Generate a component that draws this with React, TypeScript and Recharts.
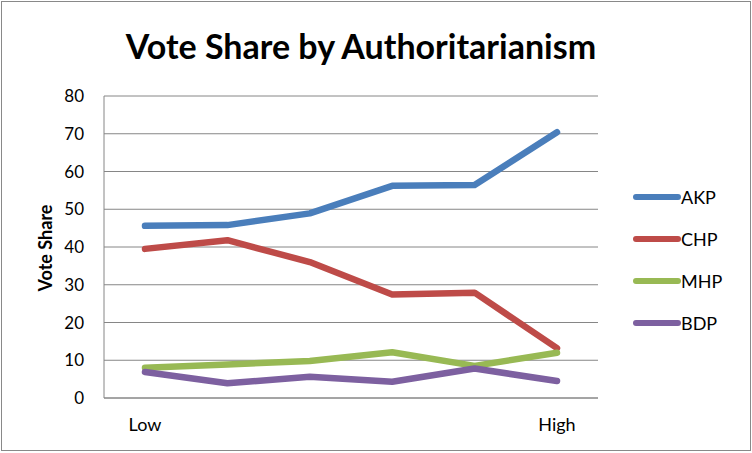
import React from "react";
import { LineChart, Line, XAxis, YAxis, CartesianGrid } from "recharts";

const levels = [1, 2, 3, 4, 5, 6];
const tickLabels = ["Low", "", "", "", "", "High"];
const akp = [45.6, 45.8, 48.9, 56.2, 56.4, 70.4];
const chp = [39.5, 41.8, 36.0, 27.4, 27.9, 13.2];
const mhp = [8.0, 8.9, 9.8, 12.1, 8.5, 12.0];
const bdp = [6.9, 3.9, 5.6, 4.3, 7.8, 4.5];
const yTicks = [0, 10, 20, 30, 40, 50, 60, 70, 80];

const series = [
  { key: "AKP", color: "#4a7ebb" },
  { key: "CHP", color: "#be4b48" },
  { key: "MHP", color: "#98b954" },
  { key: "BDP", color: "#7d60a0" },
];

const data = levels.map((lv, i) => ({
  level: lv,
  AKP: akp[i],
  CHP: chp[i],
  MHP: mhp[i],
  BDP: bdp[i],
}));

const FONT = "Lato, 'Open Sans', sans-serif";

export default function App() {
  return (
    <div style={{ position: "absolute", left: 0, top: 0, width: 752, height: 453, background: "#fff", fontFamily: FONT }}>
      <div
        style={{
          position: "absolute",
          left: 1,
          top: 1,
          width: 750,
          height: 450,
          border: "1.5px solid #898989",
          boxSizing: "border-box",
        }}
      />
      <div
        style={{
          position: "absolute",
          left: 0,
          width: 722,
          top: 24,
          textAlign: "center",
          fontSize: 34,
          fontWeight: 700,
          color: "#000",
          lineHeight: "44px",
        }}
      >
        Vote Share by Authoritarianism
      </div>
      <div
        style={{
          position: "absolute",
          left: 45 - 60,
          top: 248 - 11,
          width: 120,
          height: 22,
          lineHeight: "22px",
          textAlign: "center",
          transform: "rotate(-90deg)",
          fontSize: 18,
          fontWeight: 700,
          color: "#000",
        }}
      >
        Vote Share
      </div>
      <div style={{ position: "absolute", left: 0, top: 0 }}>
        <LineChart width={752} height={453} data={data} margin={{ top: 96, right: 154, bottom: 25, left: 0 }}>
          <CartesianGrid vertical={false} stroke="#868686" strokeWidth={1} />
          <XAxis
            dataKey="level"
            tickFormatter={(v: any, i: number) => tickLabels[i]}
            interval={0}
            padding={{ left: 41, right: 41 }}
            tickLine={false}
            tickSize={0}
            tickMargin={20}
            height={30}
            stroke="#868686"
            tick={{ fill: "#000", fontSize: 18, fontFamily: FONT }}
          />
          <YAxis
            domain={[0, 80]}
            ticks={yTicks}
            interval={0}
            width={104}
            tickLine={false}
            tickSize={0}
            tickMargin={20}
            stroke="#868686"
            tick={{ fill: "#000", fontSize: 17, fontFamily: FONT }}
          />
          {series.map((s) => (
            <Line
              key={s.key}
              type="linear"
              dataKey={s.key}
              stroke={s.color}
              strokeWidth={6.5}
              strokeLinecap="round"
              strokeLinejoin="round"
              dot={false}
              activeDot={false}
              isAnimationActive={false}
            />
          ))}
        </LineChart>
      </div>
      <div style={{ position: "absolute", left: 629, top: 176 }}>
        {series.map((s) => (
          <div key={s.key} style={{ display: "flex", alignItems: "center", height: 42 }}>
            <svg width={52} height={10} style={{ display: "block" }}>
              <line x1={7} y1={5} x2={49} y2={5} stroke={s.color} strokeWidth={6} strokeLinecap="round" />
            </svg>
            <span style={{ fontSize: 18, color: "#000", lineHeight: "20px" }}>{s.key}</span>
          </div>
        ))}
      </div>
    </div>
  );
}
